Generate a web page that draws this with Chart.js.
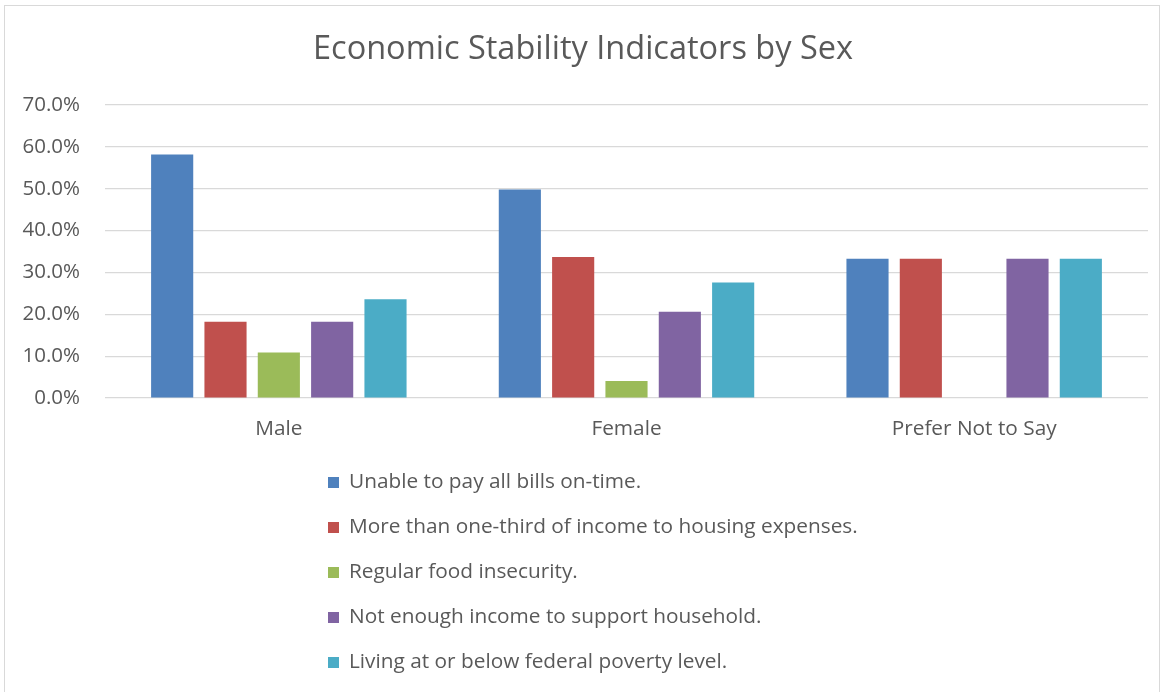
<!DOCTYPE html>
<html>
<head>
<meta charset="utf-8">
<script src="https://cdn.jsdelivr.net/npm/chart.js@4/dist/chart.umd.min.js"></script>
<style>
  html, body { margin: 0; padding: 0; background: #fff; }
  #wrap { position: relative; width: 1167px; height: 692px; overflow: hidden; }
  #frame { position: absolute; left: 4px; top: 5px; width: 1156px; height: 700px; border: 1px solid #d9d9d9; box-sizing: border-box; }
  #chart { position: absolute; left: 0; top: 0; }
  #legend { position: absolute; left: 328px; top: 466px; margin: 0; padding: 0; list-style: none;
            font-family: "Open Sans", "Noto Sans", sans-serif; font-size: 20.8px; color: #595959; }
  #legend li { height: 45.1px; line-height: 28px; white-space: nowrap; }
  #legend span { display: inline-block; width: 11px; height: 11px; margin-right: 10px; vertical-align: 0px; }
</style>
</head>
<body>
<div id="wrap">
  <div id="frame"></div>
  <canvas id="chart" width="1167" height="692"></canvas>
  <ul id="legend"></ul>
</div>
<script>
const categories = ['Male', 'Female', 'Prefer Not to Say'];

const seriesNames = [
  'Unable to pay all bills on-time.',
  'More than one-third of income to housing expenses.',
  'Regular food insecurity.',
  'Not enough income to support household.',
  'Living at or below federal poverty level.'
];

// percent of respondents, per category
const unableToPay    = [58.2, 49.8, 33.3];
const housingCost    = [18.2, 33.7, 33.3];
const foodInsecurity = [10.9, 4.1, 0];
const notEnoughIncome = [18.2, 20.6, 33.3];
const belowPoverty   = [23.6, 27.6, 33.3];

const colors = ['#4F81BD', '#C0504D', '#9BBB59', '#8064A2', '#4BACC6'];
const seriesValues = [unableToPay, housingCost, foodInsecurity, notEnoughIncome, belowPoverty];

const fontFamily = '"Open Sans", "Noto Sans", sans-serif';
const textColor = '#595959';

const datasets = seriesValues.map((vals, i) => ({
  label: seriesNames[i],
  data: vals,
  backgroundColor: colors[i],
  borderWidth: 0,
  barPercentage: 0.79,
  categoryPercentage: 0.767
}));

const chart = new Chart(document.getElementById('chart').getContext('2d'), {
  type: 'bar',
  data: { labels: categories, datasets: datasets },
  options: {
    responsive: false,
    animation: false,
    layout: { padding: { left: 18, right: 19, top: 10, bottom: 239 } },
    plugins: {
      legend: { display: false },
      tooltip: { enabled: false },
      title: {
        display: true,
        text: 'Economic Stability Indicators by Sex',
        color: textColor,
        font: { family: fontFamily, size: 32.5, weight: 'normal' },
        padding: { top: 20, bottom: 36 }
      }
    },
    scales: {
      x: {
        grid: { display: false },
        border: { display: false },
        ticks: { color: textColor, font: { family: fontFamily, size: 20.8 }, padding: 11 }
      },
      y: {
        min: 0,
        max: 70,
        afterFit: s => { s.width = 87; },
        ticks: {
          stepSize: 10,
          color: textColor,
          font: { family: fontFamily, size: 20.5 },
          padding: 25,
          callback: v => v.toFixed(1) + '%'
        },
        grid: { color: '#d9d9d9', lineWidth: 1.3, drawTicks: false },
        border: { display: false }
      }
    }
  }
});

// legend as a plain vertical list, built from the datasets
const legend = document.getElementById('legend');
chart.data.datasets.forEach(ds => {
  const li = document.createElement('li');
  const box = document.createElement('span');
  box.style.background = ds.backgroundColor;
  li.appendChild(box);
  li.appendChild(document.createTextNode(ds.label));
  legend.appendChild(li);
});
</script>
</body>
</html>
